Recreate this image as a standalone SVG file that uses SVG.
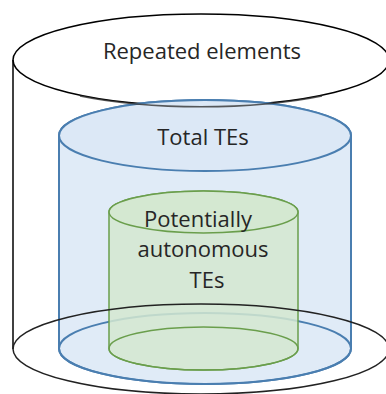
<svg xmlns="http://www.w3.org/2000/svg" width="386" height="394" viewBox="0 0 386 394">
<style>
.lbl{font-family:"Open Sans","Liberation Sans",sans-serif;font-size:22px;fill:#262626;text-anchor:middle}
.outer{fill:none;stroke:#000;stroke-width:1.5}
.blue{fill:#dae8f6;fill-opacity:0.85;stroke:#4a7eb0;stroke-width:2}
.green{fill:#d4e8d0;fill-opacity:0.85;stroke:#6a9e4c;stroke-width:1.5}
</style>
<rect width="386" height="394" fill="#fff"/>
<g id="outer-cylinder">
<line class="outer" x1="13" y1="60" x2="13" y2="349"/>
<line class="outer" x1="389" y1="60" x2="389" y2="349"/>
<ellipse class="outer" cx="201" cy="60" rx="188" ry="46" fill="#fff"/>
<text class="lbl" x="202" y="59">Repeated elements</text>
</g>
<g id="total-tes">
<path class="blue" d="M59,135.5 L59,348.5 A146,35.5 0 0 0 351,348.5 L351,135.5 A146,35.5 0 0 0 59,135.5 Z"/>
<ellipse class="blue" cx="205" cy="348.5" rx="146" ry="35.5" style="fill:none"/>
<ellipse class="blue" cx="205" cy="135.5" rx="146" ry="35.5"/>
<text class="lbl" x="203" y="145">Total TEs</text>
</g>
<g id="autonomous-tes">
<path class="green" d="M109,212 L109,348.5 A94.5,21.5 0 0 0 298,348.5 L298,212 A94.5,21 0 0 0 109,212 Z"/>
<ellipse class="green" cx="203.5" cy="348.5" rx="94.5" ry="21.5" style="fill:none"/>
<ellipse class="green" cx="203.5" cy="212" rx="94.5" ry="21"/>
<text class="lbl" x="198" y="227">Potentially</text>
<text class="lbl" x="203" y="257">autonomous</text>
<text class="lbl" x="207" y="288">TEs</text>
</g>
<g id="outer-outlines">
<path class="outer" d="M80,96 A188,46 0 0 0 322,96" style="stroke:#333;stroke-opacity:0.8"/>
<ellipse class="outer" cx="201" cy="349" rx="188" ry="45" style="stroke:#222"/>
</g>
</svg>
